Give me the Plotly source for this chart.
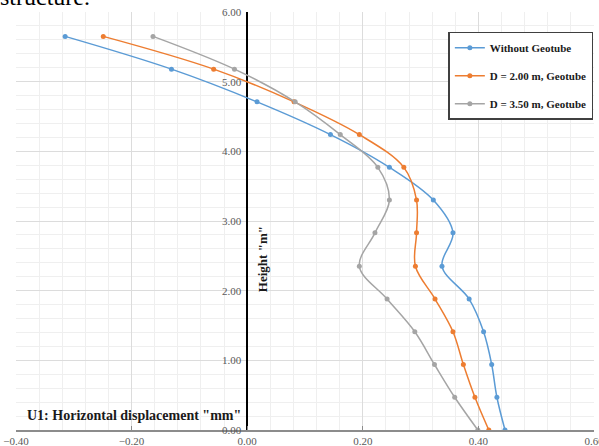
import plotly.graph_objects as go

# Height along the wall (m)
heights = [0.00, 0.47, 0.94, 1.41, 1.88, 2.35, 2.83, 3.30, 3.77, 4.24, 4.71, 5.18, 5.65]

# Horizontal displacement U1 (mm) for each case
u1_without = [0.446, 0.432, 0.423, 0.409, 0.384, 0.337, 0.356, 0.322, 0.246, 0.144, 0.017, -0.131, -0.315]
u1_d200 = [0.418, 0.394, 0.374, 0.356, 0.325, 0.291, 0.293, 0.293, 0.271, 0.194, 0.081, -0.058, -0.249]
u1_d350 = [0.399, 0.359, 0.324, 0.290, 0.242, 0.194, 0.221, 0.246, 0.226, 0.161, 0.083, -0.022, -0.163]

series_names = ["Without Geotube", "D = 2.00 m, Geotube", "D = 3.50 m, Geotube"]
series_colors = ["#5B9BD5", "#ED7D31", "#A5A5A5"]

x_ticks = [-0.40, -0.20, 0.00, 0.20, 0.40, 0.60]
y_ticks = [0.00, 1.00, 2.00, 3.00, 4.00, 5.00, 6.00]

SERIF = "Liberation Serif"

fig = go.Figure()
for i, (name, xs, col) in enumerate(zip(series_names, [u1_without, u1_d200, u1_d350], series_colors)):
    fig.add_trace(go.Scatter(
        x=xs, y=heights, name=name, mode="lines+markers",
        line=dict(color=col, width=1.5, shape="spline", smoothing=1.0),
        marker=dict(color=col, size=5),
        legendgroup=f"g{i}",
    ))

fig.update_layout(
    width=599, height=446,
    margin=dict(l=16, r=5, t=12, b=16, autoexpand=False),
    paper_bgcolor="white", plot_bgcolor="white",
    font=dict(family=SERIF, color="#595959", size=11),
    showlegend=True,
    legend=dict(
        x=0.748, y=0.953, xanchor="left", yanchor="top",
        bgcolor="white", bordercolor="#404040", borderwidth=1.5,
        font=dict(family=SERIF, size=11, color="#1a1a1a", weight="bold"),
        itemwidth=30, tracegroupgap=9,
    ),
    xaxis=dict(
        range=[-0.4, 0.6], tickvals=x_ticks, tickformat=".2f",
        automargin=False, ticklabeloverflow="allow",
        showgrid=True, gridcolor="#dcdcdc", gridwidth=1,
        minor=dict(dtick=0.04, showgrid=True, gridcolor="#efefef", gridwidth=1),
        zeroline=True, zerolinecolor="#000000", zerolinewidth=1.5,
        showline=True, linecolor="#8c8c8c", linewidth=2,
        ticks="inside", ticklen=4, tickcolor="#8c8c8c",
        tickfont=dict(family=SERIF, size=11, color="#595959"),
    ),
    yaxis=dict(
        range=[0, 6], tickvals=y_ticks, tickformat=".2f",
        anchor="free", position=0.4, automargin=False,
        showgrid=True, gridcolor="#dcdcdc", gridwidth=1,
        minor=dict(dtick=0.2, showgrid=True, gridcolor="#efefef", gridwidth=1),
        zeroline=False, showline=False, ticks="", ticklabelstandoff=6,
        tickfont=dict(family=SERIF, size=11, color="#595959"),
    ),
)

# axis titles
fig.add_annotation(
    text='Height "m"', textangle=-90, xref="x", yref="y", x=0.027, y=2.45,
    showarrow=False, font=dict(family=SERIF, size=13, color="#1a1a1a", weight="bold"),
)
fig.add_annotation(
    text='U1: Horizontal displacement "mm"', xref="paper", yref="paper",
    x=0.016, y=0.012, xanchor="left", yanchor="bottom",
    showarrow=False, font=dict(family=SERIF, size=14, color="#1a1a1a", weight="bold"),
)
# running text above the chart
fig.add_annotation(
    text="structure.", xref="paper", yref="paper",
    x=-0.031, y=0.999, xanchor="left", yanchor="bottom",
    showarrow=False, font=dict(family=SERIF, size=24, color="#000000"),
)

fig.write_html("out.html")
